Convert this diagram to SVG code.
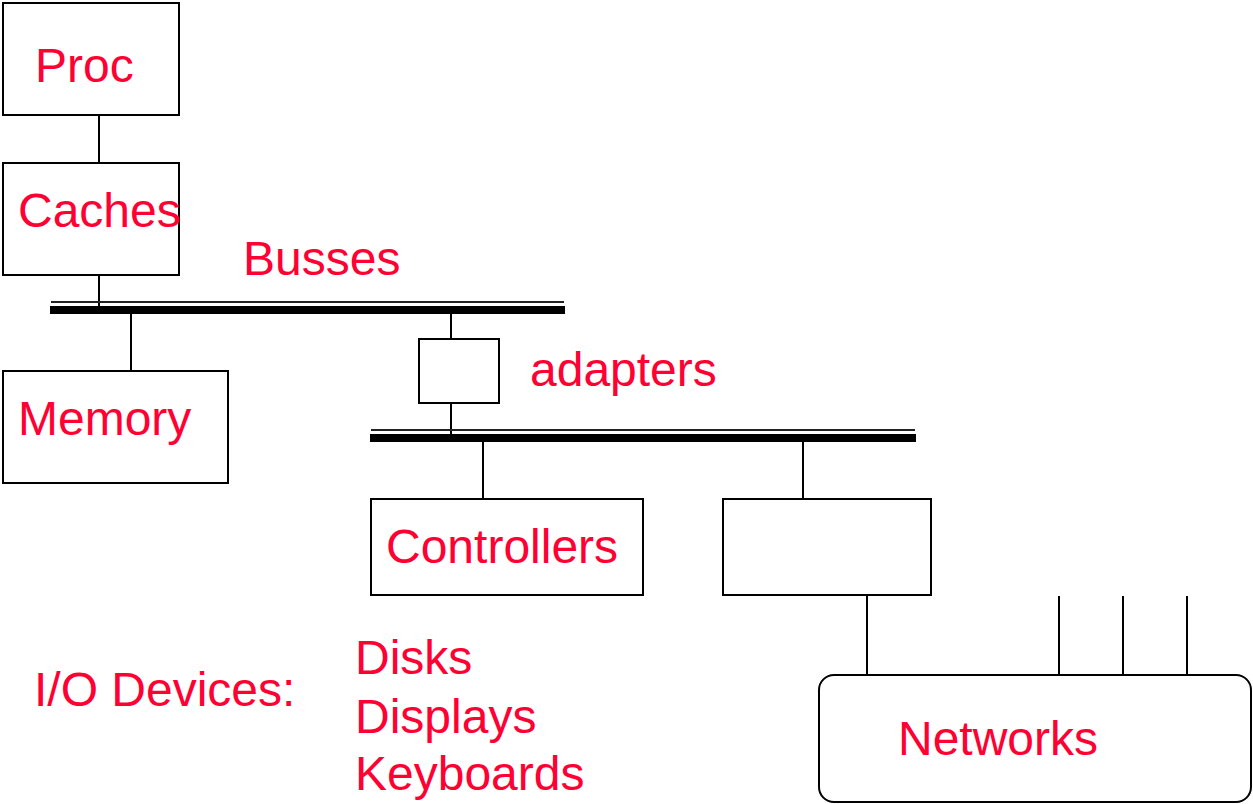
<svg xmlns="http://www.w3.org/2000/svg" width="1253" height="804" viewBox="0 0 1253 804">
<style>
.box{fill:#fff;stroke:#000;stroke-width:2}
.ln{stroke:#000;stroke-width:2;fill:none}
.thin{stroke:#222;stroke-width:2;fill:none}
.thick{stroke:#000;stroke-width:8;fill:none}
.t{font-family:"Liberation Sans",Arial,sans-serif;font-size:48px;fill:#ff0033}
</style>
<rect width="1253" height="804" fill="#fff"/>
<g id="connectors">
<line class="ln" x1="99" y1="115" x2="99" y2="163"/>
<line class="ln" x1="99" y1="275" x2="99" y2="306"/>
<line class="ln" x1="131" y1="313" x2="131" y2="371"/>
<line class="ln" x1="451" y1="313" x2="451" y2="339"/>
<line class="ln" x1="451" y1="403" x2="451" y2="434"/>
<line class="ln" x1="483" y1="441" x2="483" y2="499"/>
<line class="ln" x1="803" y1="441" x2="803" y2="499"/>
<line class="ln" x1="867" y1="595" x2="867" y2="675"/>
<line class="ln" x1="1059" y1="596" x2="1059" y2="675"/>
<line class="ln" x1="1123" y1="596" x2="1123" y2="675"/>
<line class="ln" x1="1187" y1="596" x2="1187" y2="675"/>
</g>
<g id="bus1">
<line class="thin" x1="51" y1="302" x2="564" y2="302"/>
<line class="thick" x1="50" y1="310" x2="565" y2="310"/>
</g>
<g id="bus2">
<line class="thin" x1="371" y1="430" x2="915" y2="430"/>
<line class="thick" x1="370" y1="438" x2="916" y2="438"/>
</g>
<g id="proc"><rect class="box" x="3" y="3" width="176" height="112"/><text class="t" x="35" y="82">Proc</text></g>
<g id="caches"><rect class="box" x="3" y="163" width="176" height="112"/><text class="t" x="18" y="227">Caches</text></g>
<g id="busses-label"><text class="t" x="243" y="275">Busses</text></g>
<g id="memory"><rect class="box" x="3" y="371" width="225" height="112"/><text class="t" x="18" y="435">Memory</text></g>
<g id="adapter"><rect class="box" x="419" y="339" width="80" height="64"/></g>
<g id="adapters-label"><text class="t" x="530" y="386">adapters</text></g>
<g id="controllers"><rect class="box" x="371" y="499" width="272" height="96"/><text class="t" x="386" y="563">Controllers</text></g>
<g id="box2"><rect class="box" x="723" y="499" width="208" height="96"/></g>
<g id="networks"><rect class="box" x="819" y="675" width="432" height="127" rx="15" ry="15"/><text class="t" x="898" y="755">Networks</text></g>
<g id="io"><text class="t" x="34" y="706">I/O Devices:</text>
<text class="t" x="355" y="674">Disks</text>
<text class="t" x="355" y="733">Displays</text>
<text class="t" x="355" y="790">Keyboards</text></g>
</svg>
